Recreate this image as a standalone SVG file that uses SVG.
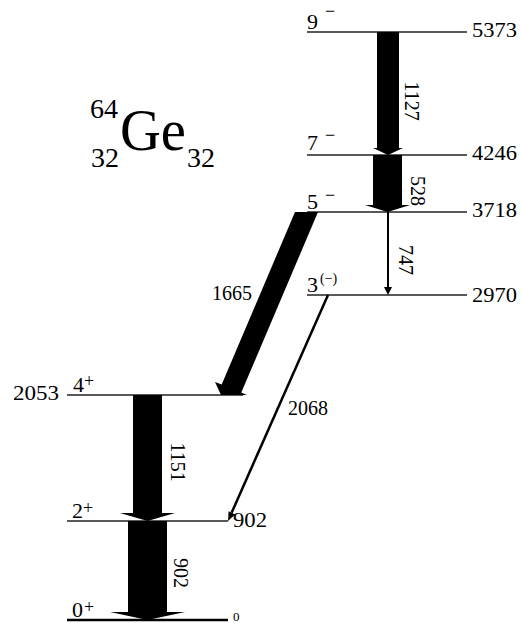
<svg xmlns="http://www.w3.org/2000/svg" width="522" height="623" viewBox="0 0 522 623">
<style>
text{font-family:"Liberation Serif","Times New Roman",serif;fill:#000}
.lv{stroke:#222;stroke-width:1.3;fill:none}
.en{font-size:21px}
.sp{font-size:22px}
.sup{font-size:18px}
.tl{font-size:20px}
.arr{fill:#000;stroke:none}
.thin{stroke:#000;fill:none}
</style>
<rect width="522" height="623" fill="#fff"/>
<g id="title">
<text x="90" y="118" style="font-size:28px">64</text>
<text x="120" y="150" style="font-size:60px" textLength="66" lengthAdjust="spacingAndGlyphs">Ge</text>
<text x="91" y="167" style="font-size:28px">32</text>
<text x="187" y="167" style="font-size:28px">32</text>
</g>
<g id="level-5373">
<line class="lv" x1="307" y1="32" x2="467" y2="32"/>
<text class="sp" x="307" y="29">9</text><text class="sup" x="325" y="17">−</text>
<text class="en" x="472" y="37" textLength="45" lengthAdjust="spacingAndGlyphs">5373</text>
</g>
<g id="level-4246">
<line class="lv" x1="307" y1="155" x2="467" y2="155"/>
<text class="sp" x="307" y="150">7</text><text class="sup" x="325" y="141">−</text>
<text class="en" x="472" y="160" textLength="45" lengthAdjust="spacingAndGlyphs">4246</text>
</g>
<g id="level-3718">
<line class="lv" x1="307" y1="212" x2="467" y2="212"/>
<text class="sp" x="307" y="209">5</text><text class="sup" x="325" y="201">−</text>
<text class="en" x="472" y="217" textLength="45" lengthAdjust="spacingAndGlyphs">3718</text>
</g>
<g id="level-2970">
<line class="lv" x1="307" y1="295" x2="467" y2="295"/>
<text class="sp" x="307" y="292">3</text><text x="320" y="283" style="font-size:14px">(−)</text>
<text class="en" x="472" y="302" textLength="45" lengthAdjust="spacingAndGlyphs">2970</text>
</g>
<g id="level-2053">
<line class="lv" x1="67" y1="395" x2="243" y2="395"/>
<text class="sp" x="73" y="392">4</text><text class="sup" x="84" y="387">+</text>
<text class="en" x="13" y="400" textLength="46" lengthAdjust="spacingAndGlyphs">2053</text>
</g>
<g id="level-902">
<line class="lv" x1="67" y1="521" x2="228" y2="521"/>
<text class="sp" x="72" y="518">2</text><text class="sup" x="83" y="514">+</text>
<text class="en" x="233" y="527" textLength="34" lengthAdjust="spacingAndGlyphs">902</text>
</g>
<g id="level-0">
<line x1="67" y1="620" x2="228" y2="620" stroke="#000" stroke-width="2.6"/>
<text class="sp" x="72" y="617">0</text><text class="sup" x="84" y="613">+</text>
<text x="233" y="621" style="font-size:13px">0</text>
</g>
<g id="connectors">
<polygon class="arr" points="377,32 399,32 399,148 403,148 388,155 373,148 377,148"/>
<polygon class="arr" points="373,155 402,155 402,205 410,205 387.5,212 365,205 373,205"/>
<line class="thin" x1="388" y1="212" x2="388" y2="288" stroke-width="2"/>
<polygon class="arr" points="384,287 392,287 388,295"/>
<polygon class="arr" points="295,212 318,212 241.3,392.6 247,395 221,395 215,382 221.7,384.4"/>
<line class="thin" x1="328" y1="295" x2="231.6" y2="512.8" stroke-width="2.5"/>
<polygon class="arr" points="235.2,514.4 228.6,511.2 228,521"/>
<polygon class="arr" points="133,395 162,395 162,513 175,513 147.5,521 120,513 133,513"/>
<polygon class="arr" points="128,521 167,521 167,612 185,612 147.5,620 110,612 128,612"/>
<text class="tl" transform="translate(412,101) rotate(90)" text-anchor="middle" dominant-baseline="central">1127</text>
<text class="tl" transform="translate(418,191) rotate(90)" text-anchor="middle" dominant-baseline="central">528</text>
<text class="tl" transform="translate(406,260) rotate(90)" text-anchor="middle" dominant-baseline="central">747</text>
<text class="tl" transform="translate(178,462) rotate(90)" text-anchor="middle" dominant-baseline="central">1151</text>
<text class="tl" transform="translate(181,573) rotate(90)" text-anchor="middle" dominant-baseline="central">902</text>
<text class="tl" x="212" y="300">1665</text>
<text class="tl" x="288" y="415">2068</text>
</g>
</svg>
